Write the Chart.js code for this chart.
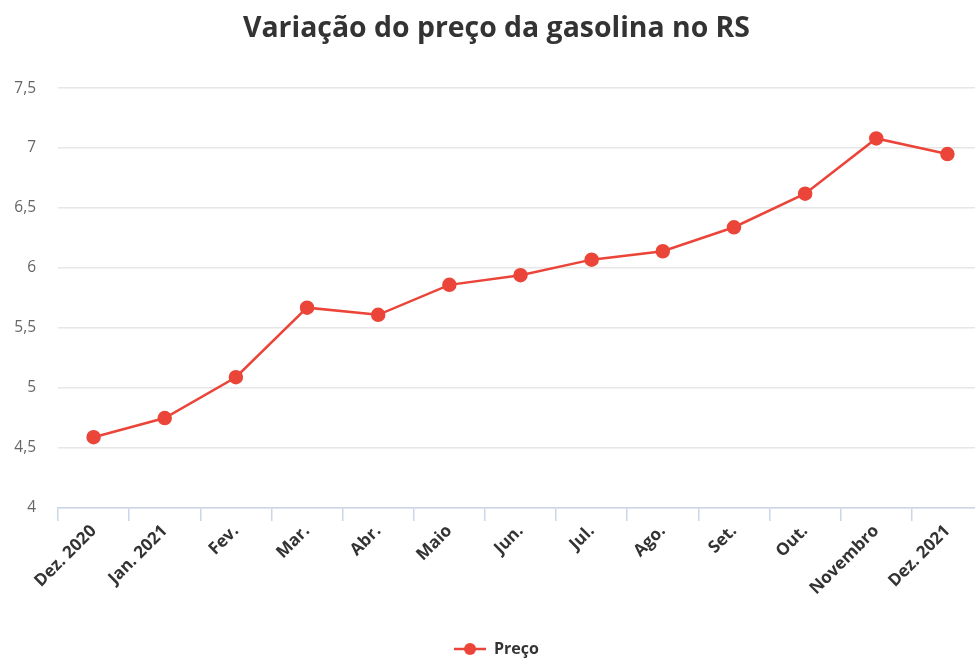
<!DOCTYPE html>
<html>
<head>
<meta charset="utf-8">
<script src="https://cdn.jsdelivr.net/npm/chart.js@4.4.0/dist/chart.umd.min.js"></script>
<style>
  html, body { margin:0; padding:0; background:#fff; overflow:hidden; }
  #wrap { width:993px; height:659px; }
</style>
</head>
<body>
<div id="wrap"><canvas id="precoChart" width="993" height="659"></canvas></div>
<script>
var meses = ["Dez. 2020", "Jan. 2021", "Fev.", "Mar.", "Abr.", "Maio", "Jun.", "Jul.", "Ago.", "Set.", "Out.", "Novembro", "Dez. 2021"];
var precos = [4.59, 4.75, 5.09, 5.67, 5.61, 5.86, 5.94, 6.07, 6.14, 6.34, 6.62, 7.08, 6.95];
var yTicks = [4, 4.5, 5, 5.5, 6, 6.5, 7, 7.5];

var vermelho = "#eb4539";

// simbolo da legenda: linha + bolinha
var simbolo = document.createElement("canvas");
simbolo.width = 32; simbolo.height = 14;
var sc = simbolo.getContext("2d");
sc.strokeStyle = vermelho; sc.lineWidth = 2.5;
sc.beginPath(); sc.moveTo(0, 7); sc.lineTo(32, 7); sc.stroke();
sc.fillStyle = vermelho;
sc.beginPath(); sc.arc(16, 7, 6, 0, Math.PI * 2); sc.fill();

Chart.defaults.font.family = "'Open Sans', sans-serif";

var chart = new Chart(document.getElementById("precoChart"), {
    type: "line",
    data: {
        labels: meses,
        datasets: [{
            label: "Preço",
            data: precos,
            borderColor: vermelho,
            backgroundColor: vermelho,
            borderWidth: 2.5,
            pointRadius: 6,
            pointHoverRadius: 7,
            pointStyle: "circle",
            tension: 0
        }]
    },
    options: {
        responsive: false,
        animation: false,
        layout: { padding: { top: 8, left: 10, right: 10, bottom: -8 } },
        plugins: {
            title: {
                display: true,
                text: "Variação do preço da gasolina no RS",
                color: "#333333",
                font: { size: 28.4, weight: "bold" },
                padding: { top: 4, bottom: 42 }
            },
            legend: {
                position: "bottom",
                labels: {
                    usePointStyle: true,
                    pointStyleWidth: 32,
                    padding: 6,
                    color: "#333333",
                    font: { size: 16, weight: "bold" },
                    generateLabels: function(c) {
                        return [{
                            text: "Preço",
                            pointStyle: simbolo,
                            fillStyle: vermelho,
                            strokeStyle: vermelho,
                            lineWidth: 0,
                            datasetIndex: 0,
                            fontColor: "#333333"
                        }];
                    }
                }
            },
            tooltip: { enabled: false }
        },
        scales: {
            x: {
                type: "category",
                offset: true,
                afterFit: function(s) { s.height = 127; },
                grid: {
                    offset: true,
                    drawOnChartArea: false,
                    drawTicks: true,
                    tickLength: 13,
                    color: "#ccd6eb",
                    lineWidth: 1.5
                },
                border: { display: true, color: "#ccd6eb", width: 1.5 },
                ticks: {
                    minRotation: 45,
                    maxRotation: 45,
                    autoSkip: false,
                    color: "#333333",
                    padding: 0,
                    font: { size: 17, weight: "bold" }
                }
            },
            y: {
                min: 4,
                max: 7.5,
                afterBuildTicks: function(s) {
                    s.ticks = yTicks.map(function(v) { return { value: v }; });
                },
                afterFit: function(s) { s.width = 48; },
                grid: { color: "#e6e6e6", lineWidth: 1.5, drawTicks: false },
                border: { display: false },
                ticks: {
                    color: "#666666",
                    padding: 22,
                    font: { size: 15.5 },
                    callback: function(v) { return String(v).replace(".", ","); }
                }
            }
        }
    }
});
</script>
</body>
</html>
